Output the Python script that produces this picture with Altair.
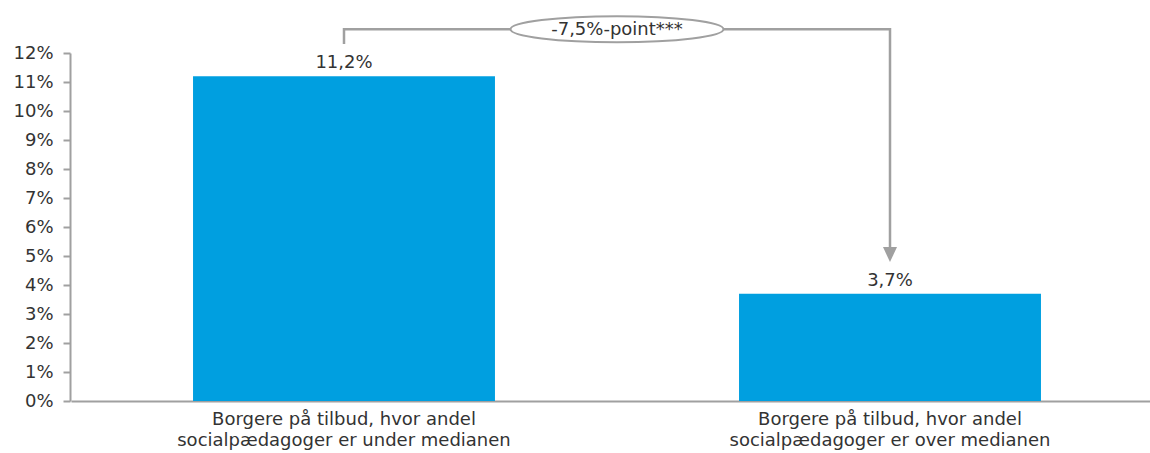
import altair as alt
import pandas as pd

# Categories (two-line axis labels) and their shares in percent
categories = [
    "Borgere på tilbud, hvor andel\nsocialpædagoger er under medianen",
    "Borgere på tilbud, hvor andel\nsocialpædagoger er over medianen",
]
shares = [11.2, 3.7]
y_ticks = list(range(0, 13))

# Difference annotation between the two bars
difference_label = "-7,5%-point***"
bracket_level = 12.82          # height of the horizontal connector (in %)
bracket_start = 12.31          # lower end of the left leg
bracket_end = 5.31             # lower end of the right leg, where the arrowhead starts
arrow_center = 5.05

FONT = "DejaVu Sans"
TEXT = "#333333"
GREY = "#a0a0a0"
BLUE = "#009fe0"
X_RANGE = [1, 1093]

bars_df = pd.DataFrame({"cat": categories, "share": shares})
bracket_df = pd.DataFrame({
    "cat": [categories[0], categories[0], categories[1], categories[1]],
    "y": [bracket_start, bracket_level, bracket_level, bracket_end],
    "step": [0, 1, 2, 3],
})
arrow_df = pd.DataFrame({"cat": [categories[1]], "y": [arrow_center]})
diff_df = pd.DataFrame({"y": [bracket_level], "label": [difference_label]})

x_scale = alt.Scale(domain=categories, range=X_RANGE, paddingInner=0.447, paddingOuter=0.2235)
y_scale = alt.Scale(domain=[0, 12], nice=False, zero=True)

x_axis = alt.Axis(
    title=None,
    labelAngle=0,
    ticks=False,
    labelExpr="split(datum.label, '\\n')",
    labelFont=FONT,
    labelFontSize=18,
    labelColor=TEXT,
    labelPadding=9,
    labelLineHeight=21,
    labelBaseline="top",
    labelLimit=0,
    labelOverlap=False,
    domainColor=GREY,
    domainWidth=2,
)
y_axis = alt.Axis(
    title=None,
    values=y_ticks,
    labelExpr="datum.value + '%'",
    labelOverlap=False,
    grid=False,
    tickSize=7,
    tickWidth=2,
    tickColor=GREY,
    domainColor=GREY,
    domainWidth=2,
    labelFont=FONT,
    labelFontSize=18,
    labelColor=TEXT,
    labelPadding=10,
)


def cat_x():
    return alt.X("cat:N", scale=x_scale, sort=None, title=None, axis=x_axis)


def val_y(field):
    return alt.Y(field, scale=y_scale, title=None, axis=y_axis)


bars = alt.Chart(bars_df).mark_bar(color=BLUE).encode(x=cat_x(), y=val_y("share:Q"))

values = (
    alt.Chart(bars_df)
    .transform_calculate(label="replace(format(datum.share, '.1f'), '.', ',') + '%'")
    .mark_text(baseline="alphabetic", dy=-8, font=FONT, fontSize=18, color=TEXT)
    .encode(x=cat_x(), y=val_y("share:Q"), text="label:N")
)

bracket = (
    alt.Chart(bracket_df)
    .mark_line(color=GREY, strokeWidth=2.5, clip=False)
    .encode(x=cat_x(), y=val_y("y:Q"), order=alt.Order("step:Q"))
)

arrow = (
    alt.Chart(arrow_df)
    .mark_point(shape="M -1 -1.07 L 1 -1.07 L 0 1.07 Z", size=196, filled=True, color=GREY, opacity=1, clip=False)
    .encode(x=cat_x(), y=val_y("y:Q"))
)

mid_x = (X_RANGE[0] + X_RANGE[1]) / 2

ellipse = (
    alt.Chart(diff_df)
    .mark_point(
        shape="M -1 0 A 1 0.122 0 1 1 1 0 A 1 0.122 0 1 1 -1 0 Z",
        size=213 ** 2,
        filled=True,
        fill="white",
        stroke=GREY,
        strokeWidth=2,
        opacity=1,
        clip=False,
    )
    .encode(x=alt.value(mid_x), y=val_y("y:Q"))
)

diff_text = (
    alt.Chart(diff_df)
    .mark_text(font=FONT, fontSize=18, color=TEXT, baseline="middle", align="center", dy=1, clip=False)
    .encode(x=alt.value(mid_x), y=val_y("y:Q"), text="label:N")
)

chart = (
    alt.layer(bars, values, bracket, arrow, ellipse, diff_text)
    .properties(
        width=1080,
        height=348,
        padding={"left": 70, "top": 53, "right": 0, "bottom": 52},
        autosize=alt.AutoSizeParams(type="none"),
        background="white",
    )
    .configure_view(stroke=None)
)

chart.save("out.html", embed_options={"renderer": "svg", "actions": False})
